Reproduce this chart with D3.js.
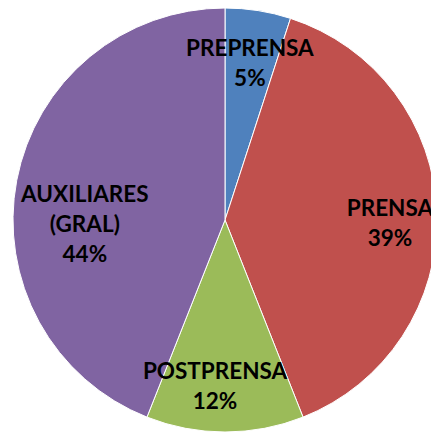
<!DOCTYPE html>
<html>
<head>
<meta charset="utf-8">
<script src="https://cdn.jsdelivr.net/npm/d3@7"></script>
<style>
  body { margin: 0; background: #fff; }
  .slice-label { font-family: Lato, "Open Sans", sans-serif; font-weight: bold; font-size: 22.5px; fill: #000; }
</style>
</head>
<body>
<div id="pie-chart"></div>
<script>
// chart data
let categories = ['PREPRENSA', 'PRENSA', 'POSTPRENSA', 'AUXILIARES (GRAL)']
let values = [5, 39, 12, 44]
let labelLines = [['PREPRENSA'], ['PRENSA'], ['POSTPRENSA'], ['AUXILIARES', '(GRAL)']]
let colors = ['#4F81BD', '#C0504D', '#9BBB59', '#8064A2']

let width = 431,
  height = 433

let cx = 225, cy = 220, radius = 212

// small shifts so labels sit like excel's "best fit"
let nudges = {
  'PREPRENSA': [0, 0],
  'PRENSA': [6, 8],
  'POSTPRENSA': [-10, 7],
  'AUXILIARES (GRAL)': [16, 34]
}

let data = categories.map((c, i) => ({ name: c, value: values[i], lines: labelLines[i], color: colors[i] }))
let total = d3.sum(values)

let svg = d3.select('#pie-chart')
  .append('svg')
  .attr('width', width)
  .attr('height', height)

let g = svg.append('g').attr('transform', 'translate(' + cx + ',' + cy + ')')

let pie = d3.pie().sort(null).value(d => d.value)
let arc = d3.arc().innerRadius(0).outerRadius(radius)
let labelArc = d3.arc().innerRadius(radius * 0.75).outerRadius(radius * 0.75)

let arcs = pie(data)

g.selectAll('.slice')
  .data(arcs)
  .enter().append('path')
  .attr('class', 'slice')
  .attr('d', arc)
  .style('fill', d => d.data.color)
  .style('stroke', '#fff')
  .style('stroke-width', 1)

let lineHeight = 30

let labels = g.selectAll('.slice-label')
  .data(arcs)
  .enter().append('text')
  .attr('class', 'slice-label')
  .attr('text-anchor', 'middle')
  .attr('transform', d => {
    let c = labelArc.centroid(d)
    let n = nudges[d.data.name]
    return 'translate(' + (c[0] + n[0]) + ',' + (c[1] + n[1]) + ')'
  })

labels.each(function (d) {
  let lines = d.data.lines.concat([Math.round(d.data.value / total * 100) + '%'])
  let top = -(lines.length - 1) * lineHeight / 2 + 8
  lines.forEach((line, i) => {
    d3.select(this).append('tspan')
      .attr('x', 0)
      .attr('y', top + i * lineHeight)
      .text(line)
  })
})
</script>
</body>
</html>
